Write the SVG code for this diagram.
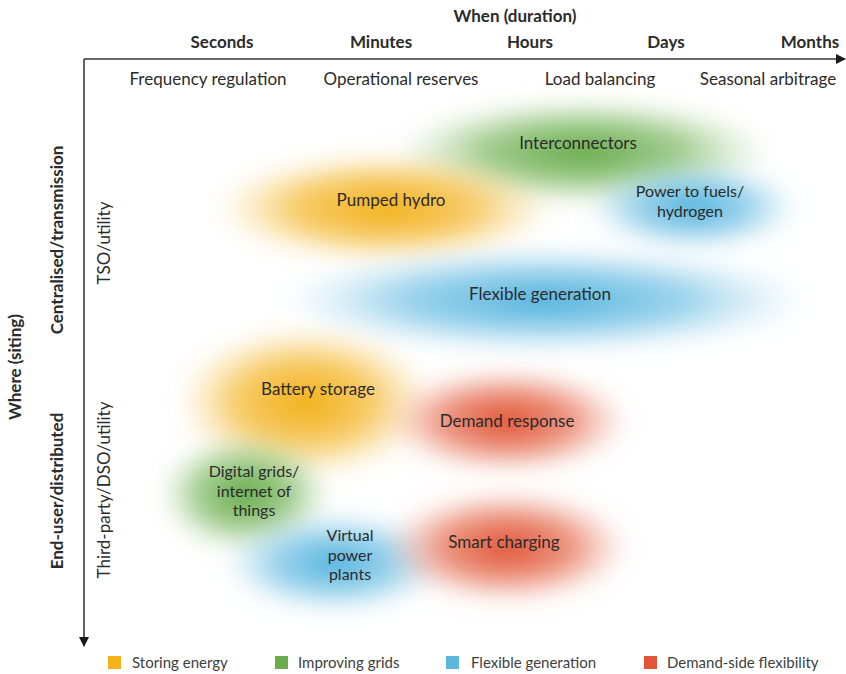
<svg xmlns="http://www.w3.org/2000/svg" width="846" height="674" viewBox="0 0 846 674">
<style>
text{font-family:Lato,"Open Sans","Liberation Sans",sans-serif;fill:#2b2b2b}
.hb{font-size:17px;font-weight:bold}
.hr{font-size:17px}
.lab{font-size:17px;text-anchor:middle}
.ml{font-size:16px;text-anchor:middle}
.leg{font-size:15px;fill:#404040}
.ax{stroke:#3a3a3a;stroke-width:1.6;fill:none}
.blob{filter:url(#soft)}
</style>
<defs>
<filter id="soft" x="-40%" y="-60%" width="180%" height="220%"><feGaussianBlur stdDeviation="10"/></filter>
<radialGradient id="gO"><stop offset="0" stop-color="#F2AE12" stop-opacity="1"/><stop offset="0.55" stop-color="#F5BE42" stop-opacity="0.8"/><stop offset="1" stop-color="#F8D27A" stop-opacity="0.05"/></radialGradient>
<radialGradient id="gG"><stop offset="0" stop-color="#62A845" stop-opacity="1"/><stop offset="0.55" stop-color="#82BB68" stop-opacity="0.75"/><stop offset="1" stop-color="#A8D196" stop-opacity="0.05"/></radialGradient>
<radialGradient id="gB"><stop offset="0" stop-color="#4BB0DC" stop-opacity="1"/><stop offset="0.55" stop-color="#79C4E6" stop-opacity="0.75"/><stop offset="1" stop-color="#A9D8EE" stop-opacity="0.05"/></radialGradient>
<radialGradient id="gR"><stop offset="0" stop-color="#E14E2E" stop-opacity="1"/><stop offset="0.55" stop-color="#E87A60" stop-opacity="0.8"/><stop offset="1" stop-color="#F0A896" stop-opacity="0.05"/></radialGradient>
<marker id="arr" viewBox="0 0 10 10" refX="9" refY="5" markerWidth="10" markerHeight="10" markerUnits="userSpaceOnUse" orient="auto"><path d="M0,0 L10,5 L0,10 Z" fill="#1a1a1a"/></marker>
</defs>

<g id="axes">
<line class="ax" x1="84" y1="59" x2="845" y2="59" marker-end="url(#arr)"/>
<line class="ax" x1="84" y1="59" x2="84" y2="646" marker-end="url(#arr)"/>
</g>

<g id="header">
<text class="hb" x="515" y="22" text-anchor="middle">When (duration)</text>
<text class="hb" x="222" y="48" text-anchor="middle">Seconds</text>
<text class="hb" x="381" y="48" text-anchor="middle">Minutes</text>
<text class="hb" x="530" y="48" text-anchor="middle">Hours</text>
<text class="hb" x="666" y="48" text-anchor="middle">Days</text>
<text class="hb" x="810" y="48" text-anchor="middle">Months</text>
<text class="hr" x="208" y="85" text-anchor="middle">Frequency regulation</text>
<text class="hr" x="401" y="85" text-anchor="middle">Operational reserves</text>
<text class="hr" x="600" y="85" text-anchor="middle">Load balancing</text>
<text class="hr" x="768" y="85" text-anchor="middle">Seasonal arbitrage</text>
</g>

<g id="side">
<text class="hb" transform="translate(21,367) rotate(-90)" text-anchor="middle">Where (siting)</text>
<text class="hb" transform="translate(63,240) rotate(-90)" text-anchor="middle">Centralised/transmission</text>
<text class="hb" transform="translate(63,491) rotate(-90)" text-anchor="middle">End-user/distributed</text>
<text class="hr" transform="translate(110,243) rotate(-90)" text-anchor="middle">TSO/utility</text>
<text class="hr" transform="translate(110,490) rotate(-90)" text-anchor="middle">Third-party/DSO/utility</text>
</g>

<g id="interconnectors">
<ellipse class="blob" cx="583" cy="152" rx="182" ry="52" fill="url(#gG)"/>
<text class="lab" x="578" y="149">Interconnectors</text>
</g>
<g id="pumped-hydro">
<ellipse class="blob" cx="385" cy="208" rx="165" ry="54" fill="url(#gO)"/>
<text class="lab" x="391" y="206">Pumped hydro</text>
</g>
<g id="power-to-fuels">
<ellipse class="blob" cx="693" cy="207" rx="104" ry="44" fill="url(#gB)"/>
<text class="ml" x="690" y="197">Power to fuels/</text>
<text class="ml" x="690" y="217">hydrogen</text>
</g>
<g id="flexible-generation">
<ellipse class="blob" cx="545" cy="300" rx="258" ry="52" fill="url(#gB)"/>
<text class="lab" x="540" y="300">Flexible generation</text>
</g>
<g id="battery-storage">
<ellipse class="blob" cx="305" cy="402" rx="125" ry="74" fill="url(#gO)"/>
<text class="lab" x="318" y="395">Battery storage</text>
</g>
<g id="demand-response">
<ellipse class="blob" cx="507" cy="421" rx="120" ry="52" fill="url(#gR)"/>
<text class="lab" x="507" y="427">Demand response</text>
</g>
<g id="digital-grids">
<ellipse class="blob" cx="245" cy="494" rx="84" ry="58" fill="url(#gG)"/>
<text class="ml" x="254" y="477">Digital grids/</text>
<text class="ml" x="254" y="496.5">internet of</text>
<text class="ml" x="254" y="516">things</text>
</g>
<g id="virtual-power-plants">
<ellipse class="blob" cx="335" cy="563" rx="110" ry="50" fill="url(#gB)"/>
<text class="ml" x="350" y="541">Virtual</text>
<text class="ml" x="350" y="560.5">power</text>
<text class="ml" x="350" y="580">plants</text>
</g>
<g id="smart-charging">
<ellipse class="blob" cx="507" cy="547" rx="120" ry="56" fill="url(#gR)"/>
<text class="lab" x="504" y="548">Smart charging</text>
</g>

<g id="legend">
<rect x="108" y="656" width="13" height="13" fill="#F5B21A"/>
<text class="leg" x="132" y="668">Storing energy</text>
<rect x="275" y="656" width="13" height="13" fill="#6AAE4C"/>
<text class="leg" x="298" y="668">Improving grids</text>
<rect x="446" y="656" width="13" height="13" fill="#5BB7DE"/>
<text class="leg" x="471" y="668">Flexible generation</text>
<rect x="644" y="656" width="13" height="13" fill="#E2553A"/>
<text class="leg" x="667" y="668">Demand-side flexibility</text>
</g>
</svg>
